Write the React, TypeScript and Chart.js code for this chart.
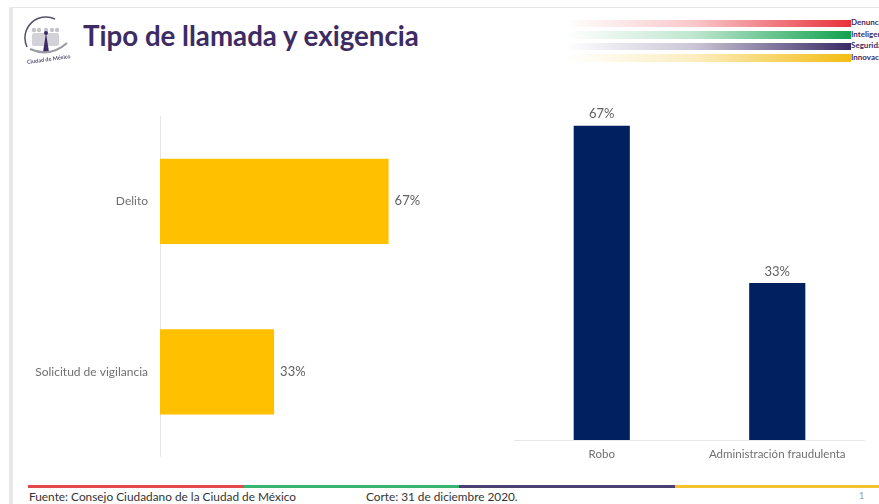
import React, { useEffect, useRef } from "react";
import { Chart, registerables } from "chart.js";

Chart.register(...registerables);

const leftCategories = ["Delito", "Solicitud de vigilancia"];
const leftValues = [66.7, 33.3];
const rightCategories = ["Robo", "Administración fraudulenta"];
const rightValues = [66.7, 33.3];
const titleText = "Tipo de llamada y exigencia";
const sourceText = "Fuente: Consejo Ciudadano de la Ciudad de México";
const cutoffText = "Corte: 31 de diciembre 2020.";
const stripeLabels = ["Denuncia", "Inteligencia", "Seguridad", "Innovación"];
const stripeColors = ["#e8313a", "#12a24f", "#3a2a66", "#f4bd12"];
const footerColors = ["#e4484f", "#35b56f", "#4b3f73", "#f4c22c"];

const LABEL_COLOR = "#6f6f6f";

const valueLabels = {
  id: "valueLabels",
  afterDatasetsDraw(chart: any) {
    const { ctx } = chart;
    const horizontal = chart.options.indexAxis === "y";
    const meta = chart.getDatasetMeta(0);
    ctx.save();
    ctx.font = '13px "Lato", sans-serif';
    ctx.fillStyle = "#5f5f5f";
    meta.data.forEach((el: any, i: number) => {
      const text = Math.round(chart.data.datasets[0].data[i]) + "%";
      if (horizontal) {
        ctx.textAlign = "left";
        ctx.textBaseline = "middle";
        ctx.fillText(text, el.x + 6, el.y);
      } else {
        ctx.textAlign = "center";
        ctx.textBaseline = "bottom";
        ctx.fillText(text, el.x, el.y - 5);
      }
    });
    ctx.restore();
  },
};

function useBar(ref: React.RefObject<HTMLCanvasElement | null>, config: any) {
  useEffect(() => {
    if (!ref.current) return;
    const chart = new Chart(ref.current, config);
    return () => chart.destroy();
  }, []);
}

const abs = (x: number, y: number, w: number, h: number): React.CSSProperties => ({
  position: "absolute",
  left: x,
  top: y,
  width: w,
  height: h,
});

export default function App() {
  const leftRef = useRef<HTMLCanvasElement>(null);
  const rightRef = useRef<HTMLCanvasElement>(null);

  useBar(leftRef, {
    type: "bar",
    plugins: [valueLabels],
    data: {
      labels: leftCategories,
      datasets: [{ data: leftValues, backgroundColor: "#ffc000", categoryPercentage: 1, barPercentage: 0.5 }],
    },
    options: {
      indexAxis: "y",
      animation: false,
      responsive: false,
      layout: { padding: 0 },
      plugins: { legend: { display: false }, tooltip: { enabled: false } },
      scales: {
        x: { display: false, min: 0, max: 99.5 },
        y: {
          afterFit: (s: any) => { s.width = 140; s.paddingTop = 0; s.paddingBottom = 0; },
          border: { color: "#e6e6e6" },
          grid: { display: false, drawTicks: false },
          ticks: { color: LABEL_COLOR, font: { family: "Lato", size: 12 }, padding: 12 },
        },
      },
    },
  });

  useBar(rightRef, {
    type: "bar",
    plugins: [valueLabels],
    data: {
      labels: rightCategories,
      datasets: [{ data: rightValues, backgroundColor: "#002060", categoryPercentage: 1, barPercentage: 0.32 }],
    },
    options: {
      animation: false,
      responsive: false,
      layout: { padding: 0 },
      plugins: { legend: { display: false }, tooltip: { enabled: false } },
      scales: {
        y: { display: false, min: 0, max: 79.6 },
        x: {
          afterFit: (s: any) => { s.height = 30; },
          border: { color: "#e6e6e6" },
          grid: { display: false, drawTicks: false },
          ticks: { color: LABEL_COLOR, font: { family: "Lato", size: 11.5 }, padding: 7, maxRotation: 0 },
        },
      },
    },
  });

  return (
    <div style={{ ...abs(0, 0, 879, 504), background: "#ffffff", overflow: "hidden" }}>
      <style>{"html,body{margin:0;padding:0;background:#fff}"}</style>
      {/* slide edges */}
      <div style={{ ...abs(9, 7, 870, 1), background: "#e4e4e4" }} />
      <div style={{ ...abs(9, 7, 4, 497), background: "#e8e8e8" }} />

      {/* logo */}
      <svg style={{ ...abs(24, 16, 48, 50), filter: "blur(0.4px)" }} viewBox="0 0 48 50">
        <path d="M3 31 A21 21 0 0 1 31 3" fill="none" stroke="#55506f" strokeWidth="1.5" />
        {[10, 15, 22, 28, 33].map((x) => (
          <circle key={x} cx={x} cy={14} r={2.2} fill="#c4c4cc" />
        ))}
        <rect x="8" y="17" width="27" height="13" rx="2" fill="#d2d2d8" />
        <path d="M22 17 L25 36 L19 36 Z" fill="#3a2a66" />
        <circle cx="22" cy="17" r="2" fill="#3a2a66" />
        <path d="M6 33 Q26 42 43 27" fill="none" stroke="#9a9aa4" strokeWidth="2" />
        <text x="25" y="45" textAnchor="middle" fontFamily="Lato" fontWeight="700" fontSize="5.5" fill="#55506f" transform="rotate(-8 25 45)">Ciudad de México</text>
      </svg>

      <div style={{ position: "absolute", left: 83, top: 19, fontFamily: "Lato, sans-serif", fontWeight: 700, fontSize: 27.7, lineHeight: "34px", color: "#3d2c63", whiteSpace: "nowrap" }}>
        {titleText}
      </div>

      {/* gradient stripes */}
      {stripeColors.map((c, i) => (
        <React.Fragment key={c}>
          <div style={{ ...abs(565, 19.5 + i * 11.6, 286, 7.5), background: `linear-gradient(to right, ${c}00, ${c}44 45%, ${c})` }} />
          <div style={{ position: "absolute", left: 851, top: 17 + i * 11.6, fontFamily: "Lato, sans-serif", fontWeight: 700, fontSize: 8, lineHeight: "11px", color: "#3d2c63", whiteSpace: "nowrap" }}>
            {stripeLabels[i]}
          </div>
        </React.Fragment>
      ))}

      <canvas ref={leftRef} width={481} height={341} style={{ ...abs(20, 116, 481, 341), display: "block" }} />
      <canvas ref={rightRef} width={351} height={405} style={{ ...abs(514, 65, 351, 405), display: "block" }} />

      {/* footer */}
      {footerColors.map((c, i) => (
        <div key={c} style={{ ...abs(28 + i * 215.5, 485, i === 3 ? 205 : 215.5, 3), background: c }} />
      ))}
      <div style={{ position: "absolute", left: 29, top: 489, fontFamily: "Lato, sans-serif", fontSize: 11.85, lineHeight: "15px", color: "#333333", whiteSpace: "nowrap" }}>
        {sourceText}
      </div>
      <div style={{ position: "absolute", left: 366, top: 489, fontFamily: "Lato, sans-serif", fontSize: 11.8, lineHeight: "15px", color: "#333333", whiteSpace: "nowrap" }}>
        {cutoffText}
      </div>
      <div style={{ position: "absolute", left: 859, top: 489, fontFamily: "Lato, sans-serif", fontSize: 9, lineHeight: "13px", color: "#999999" }}>
        1
      </div>
    </div>
  );
}
